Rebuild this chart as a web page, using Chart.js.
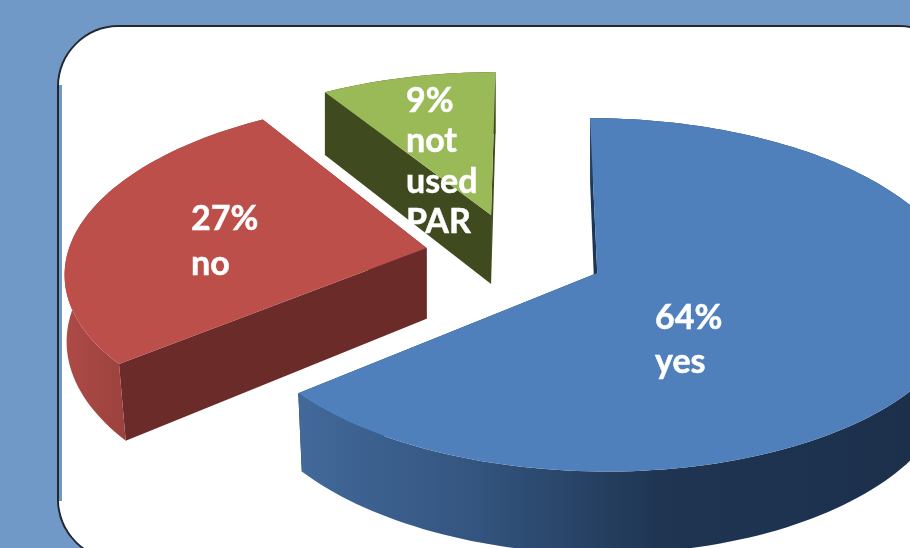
<!DOCTYPE html>
<html>
<head>
<meta charset="utf-8">
<style>
  html, body { margin: 0; padding: 0; }
  body { width: 910px; height: 548px; overflow: hidden; position: relative; background: #7099c8; }
  .frame { position: absolute; left: 57px; top: 25px; width: 900px; height: 532px; border: 2px solid #26262c; border-radius: 62px; }
  .frame .paper { position: absolute; left: 0; top: 0; right: 0; bottom: 0; background: #fff; border-radius: 60px; }
  .frame .strip { position: absolute; left: 0; top: 58px; bottom: 58px; width: 3px; background: #7099c8; }
  canvas { position: absolute; left: 0; top: 0; }
</style>
<script src="https://cdn.jsdelivr.net/npm/chart.js@4"></script>
</head>
<body>
<div class="frame"><div class="paper"></div><div class="strip"></div></div>
<canvas id="canvas-pie" width="910" height="548"></canvas>
<script>
const categories = ["yes", "no", "not used PAR"];
const shares = [64, 27, 9];
const topColors = ["#4f80bb", "#bd4f4b", "#9aba58"];
const radialWallColors = ["#1c3554", "#6a2b29", "#3f4b1f"];
const outerWallStops = [
  [[300, "#42699a"], [480, "#33547e"], [660, "#1f3552"], [910, "#1c304c"]],
  [[65, "#ad4a46"], [125, "#9c423e"]],
  [[325, "#3f4b1f"], [495, "#3f4b1f"]],
];
const labelAnchors = [
  { x: 655, y: 329, lead: 44 },
  { x: 191, y: 230, lead: 45 },
  { x: 406, y: 112, lead: 40.3 },
];

// the pie lies on a plane seen in perspective, the origin is the tip of the "yes" slice
const view = { x: 597, y: 273, sx: 364, sy: 174, shearX: 8, depth: 0.124 };
const wall = { height: 72, vanishX: 460, shrink: 0.019 };
const planeCentre = { u: -0.226, v: -0.107 };

function project(u, v) {
  const w = 1 - view.depth * v;
  return {
    x: view.x + (view.sx * u + view.shearX * v) / w,
    y: view.y + (view.sy * v) / w,
    w,
  };
}

// bottom edge of a wall, the verticals only lean inwards near the front
function dropped(p) {
  const lean = Math.min(Math.max((p.y - 240) / 120, 0), 1.15);
  return {
    x: p.x + (wall.vanishX - p.x) * wall.shrink * lean,
    y: p.y + wall.height / p.w,
  };
}

function tracePath(ctx, points) {
  ctx.beginPath();
  points.forEach((p, i) => (i ? ctx.lineTo(p.x, p.y) : ctx.moveTo(p.x, p.y)));
  ctx.closePath();
}

// arc element that extrudes its slice instead of drawing it flat
class Arc3D extends Chart.ArcElement {
  static id = "arc3d";

  draw(ctx) {
    const index = this.$context.index;
    const { startAngle, endAngle, outerRadius, options } = this;
    const blast = options.offset / outerRadius;
    const mid = (startAngle + endAngle) / 2;
    const cu = planeCentre.u + blast * Math.cos(mid);
    const cv = planeCentre.v + blast * Math.sin(mid);

    const tip = project(cu, cv);
    const rim = [];
    const steps = Math.ceil((endAngle - startAngle) / (Math.PI / 120));
    for (let i = 0; i <= steps; i++) {
      const a = startAngle + ((endAngle - startAngle) * i) / steps;
      rim.push(project(cu + Math.cos(a), cv + Math.sin(a)));
    }
    const first = rim[0];
    const last = rim[rim.length - 1];

    ctx.save();
    // radial walls, then the curved wall over them, then the top face
    ctx.fillStyle = radialWallColors[index];
    tracePath(ctx, [tip, last, dropped(last), dropped(tip)]);
    ctx.fill();
    tracePath(ctx, [tip, first, dropped(first), dropped(tip)]);
    ctx.fill();

    const stops = outerWallStops[index];
    const x0 = stops[0][0];
    const x1 = stops[stops.length - 1][0];
    const gradient = ctx.createLinearGradient(x0, 0, x1, 0);
    stops.forEach(([x, color]) => gradient.addColorStop((x - x0) / (x1 - x0), color));
    ctx.fillStyle = gradient;
    tracePath(ctx, rim.concat(rim.map(dropped).reverse()));
    ctx.fill();

    ctx.fillStyle = options.backgroundColor;
    tracePath(ctx, [tip].concat(rim));
    ctx.fill();
    ctx.restore();
  }
}

class Pie3DController extends Chart.PieController {
  static id = "pie3d";
  static defaults = { dataElementType: "arc3d" };
}

Chart.register(Arc3D, Pie3DController);

const sliceLabels = {
  id: "sliceLabels",
  afterDatasetsDraw(chart) {
    const { ctx } = chart;
    ctx.save();
    ctx.fillStyle = "#fff";
    ctx.strokeStyle = "#fff";
    ctx.lineWidth = 0.5;
    ctx.font = "bold 34px Lato";
    ctx.textAlign = "left";
    ctx.textBaseline = "alphabetic";
    categories.forEach((name, i) => {
      const anchor = labelAnchors[i];
      [`${shares[i]}%`, ...name.split(" ")].forEach((line, n) => {
        ctx.fillText(line, anchor.x, anchor.y + n * anchor.lead);
        ctx.strokeText(line, anchor.x, anchor.y + n * anchor.lead);
      });
    });
    ctx.restore();
  },
};

new Chart(document.getElementById("canvas-pie").getContext("2d"), {
  type: "pie3d",
  data: {
    labels: categories,
    datasets: [
      {
        label: "PAR",
        data: shares,
        backgroundColor: topColors,
        borderWidth: 0,
        offset: 61,
        hoverOffset: 0,
      },
    ],
  },
  options: {
    responsive: false,
    animation: false,
    events: [],
    plugins: { legend: { display: false }, tooltip: { enabled: false } },
  },
  plugins: [sliceLabels],
});
</script>
</body>
</html>
